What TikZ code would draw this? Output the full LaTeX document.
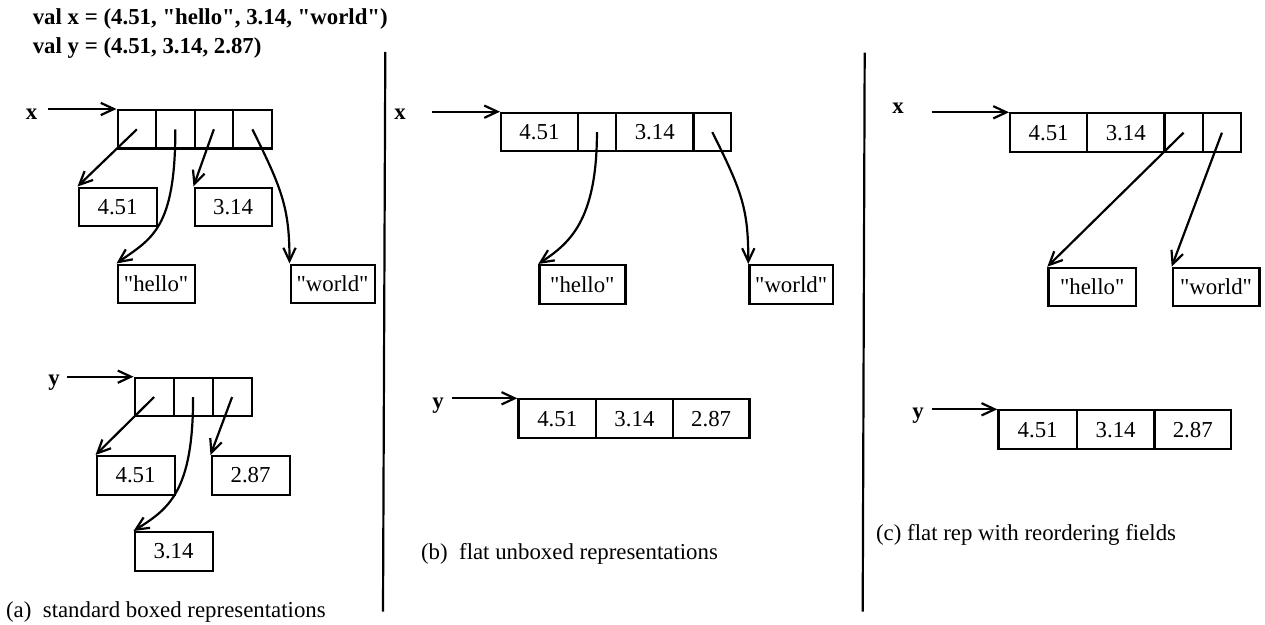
\documentclass[tikz,border=0pt]{standalone}
\usepackage{fontspec}
\newfontfamily\lserif{Liberation Serif}
\setmainfont{Liberation Serif}
\usetikzlibrary{arrows.meta}
\newcommand\titlefont{\lserif\bfseries\fontsize{13}{15}\selectfont}
\newcommand\labelfont{\lserif\bfseries\fontsize{13}{15}\selectfont}
\newcommand\boxfont{\lserif\fontsize{13}{15}\selectfont}
\newcommand\capfont{\lserif\fontsize{13}{15}\selectfont}
\begin{document}
\begin{tikzpicture}[x=0.02cm,y=-0.02cm,
  line width=1.25pt,
  fieldbox/.style={draw, rectangle, inner sep=0pt, anchor=north west,
    minimum width=#1*0.02cm, minimum height=38.5*0.02cm, font=\boxfont},
  ptr/.style={-{Straight Barb[length=7.5pt,width=7pt]}, line width=1.25pt},
  varlabel/.style={anchor=base, inner sep=0pt, font=\labelfont},
  caption/.style={anchor=base west, inner sep=0pt, font=\capfont},
  divider/.style={line width=1.25pt}]
\useasboundingbox (0,0) rectangle (1265,625);

% source declarations
\node[anchor=base west, inner sep=0pt, font=\titlefont] (decl1) at (31.7,24.5)
  {val x = (4.51, "hello", 3.14, "world")};
\node[anchor=base west, inner sep=0pt, font=\titlefont] (decl2) at (31.7,53.3)
  {val y = (4.51, 3.14, 2.87)};

% panel separators
\coordinate (sep1t) at (385.3,52);  \coordinate (sep1b) at (383,611.7);
\coordinate (sep2t) at (864.7,52.7); \coordinate (sep2b) at (862.7,611.7);
\draw[divider] (sep1t) -- (sep1b);
\draw[divider] (sep2t) -- (sep2b);

% ---------- (a) standard boxed representations ----------
\node[varlabel] (alx) at (31.7,120) {x};
\coordinate (axs) at (48,109);
\node[fieldbox=38.5] (ax1) at (116.5,109) {};
\node[fieldbox=38.5] (ax2) at (155,109) {};
\node[fieldbox=38.5] (ax3) at (193.5,109) {};
\node[fieldbox=38.5] (ax4) at (232,109) {};
\node[fieldbox=78] (a451) at (77.5,186.5) {4.51};
\node[fieldbox=77] (a314) at (193.5,186.5) {3.14};
\node[fieldbox=77] (ahello) at (116.5,263.5) {"hello"};
\node[fieldbox=84] (aworld) at (289.5,263.5) {"world"};
\draw[ptr] (axs) -- (ax1.north west);
\draw[ptr] (ax1.center) -- (a451.north west);
\draw[ptr] (ax2.center) .. controls +(0,100) and +(35,-25) .. (ahello.north west);
\draw[ptr] (ax3.center) -- (a314.north west);
\draw[ptr] (ax4.center) .. controls +(30,60) and +(0,-55) .. (aworld.north west);

\node[varlabel] (aly) at (54,385) {y};
\coordinate (ays) at (67,376.7);
\node[fieldbox=39] (ay1) at (133.5,376.7) {};
\node[fieldbox=39] (ay2) at (172.5,376.7) {};
\node[fieldbox=39] (ay3) at (211.5,376.7) {};
\node[fieldbox=78] (ay451) at (95.5,455) {4.51};
\node[fieldbox=78] (ay287) at (210.5,455) {2.87};
\node[fieldbox=78] (ay314) at (133.5,531) {3.14};
\draw[ptr] (ays) -- (ay1.north west);
\draw[ptr] (ay1.center) -- (ay451.north west);
\draw[ptr] (ay2.center) .. controls +(0,95) and +(35,-22) .. (ay314.north west);
\draw[ptr] (ay3.center) -- (ay287.north west);

\node[caption] (capa) at (5,617) {(a)~ standard boxed representations};

% ---------- (b) flat unboxed representations ----------
\node[varlabel] (blx) at (400,120) {x};
\coordinate (bxs) at (431.7,111.7);
\node[fieldbox=76.7] (bx1) at (500,111.7) {4.51};
\node[fieldbox=38.3] (bx2) at (576.7,111.7) {};
\node[fieldbox=77.3] (bx3) at (615,111.7) {3.14};
\node[fieldbox=37.7] (bx4) at (692.3,111.7) {};
\node[fieldbox=86] (bhello) at (538.3,264) {"hello"};
\node[fieldbox=83.5] (bworld) at (748.3,264) {"world"};
\draw[ptr] (bxs) -- (bx1.north west);
\draw[ptr] (bx2.center) .. controls +(0,90) and +(30,-20) .. (bhello.north west);
\draw[ptr] (bx4.center) .. controls +(30,60) and +(0,-55) .. (bworld.north west);

\node[varlabel] (bly) at (438,408) {y};
\coordinate (bys) at (451.7,398.3);
\node[fieldbox=77.7] (by1) at (517.3,398.3) {4.51};
\node[fieldbox=76.7] (by2) at (595,398.3) {3.14};
\node[fieldbox=76.6] (by3) at (671.7,398.3) {2.87};
\draw[ptr] (bys) -- (by1.north west);

\node[caption] (capb) at (420,559) {(b)~ flat unboxed representations};

% ---------- (c) flat rep with reordering fields ----------
\node[varlabel] (clx) at (898,113) {x};
\coordinate (cxs) at (931.7,112.3);
\node[fieldbox=77] (cx1) at (1009,112.3) {4.51};
\node[fieldbox=77.3] (cx2) at (1086,112.3) {3.14};
\node[fieldbox=38.4] (cx3) at (1163.3,112.3) {};
\node[fieldbox=38.3] (cx4) at (1201.7,112.3) {};
\node[fieldbox=87.7] (chello) at (1047.3,266.7) {"hello"};
\node[fieldbox=86.6] (cworld) at (1171.7,266.7) {"world"};
\draw[ptr] (cxs) -- (cx1.north west);
\draw[ptr] (cx3.center) -- (chello.north west);
\draw[ptr] (cx4.center) -- (cworld.north west);

\node[varlabel] (cly) at (918,418) {y};
\coordinate (cys) at (931.7,409.3);
\node[fieldbox=78.4] (cy1) at (997.3,409.3) {4.51};
\node[fieldbox=77.6] (cy2) at (1075.7,409.3) {3.14};
\node[fieldbox=76.7] (cy3) at (1153.3,409.3) {2.87};
\draw[ptr] (cys) -- (cy1.north west);

\node[caption] (capc) at (875,540) {(c) flat rep with reordering fields};
\end{tikzpicture}
\end{document}
